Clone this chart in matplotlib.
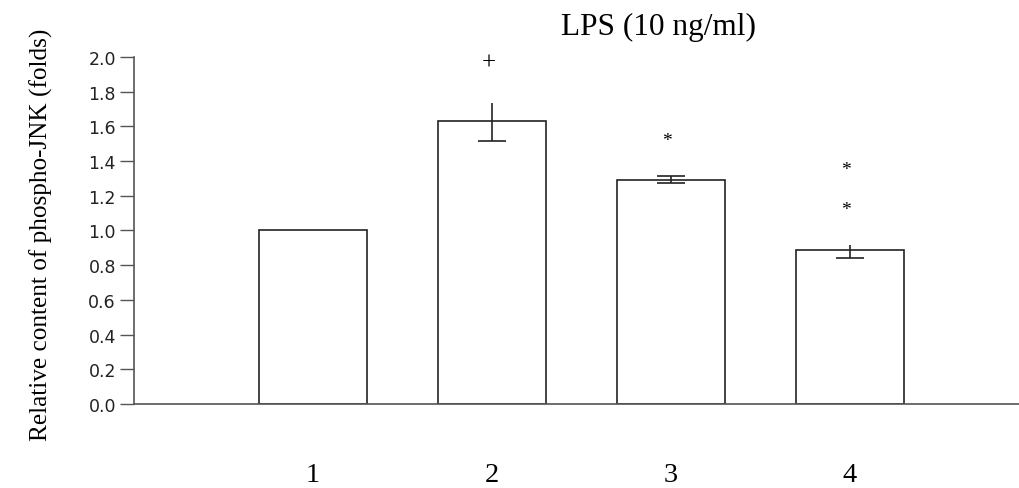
import matplotlib
matplotlib.use('Agg')
import matplotlib.pyplot as plt

groups = ['1', '2', '3', '4']
means = [1.00, 1.63, 1.29, 0.89]
err_hi = [1.00, 1.735, 1.312, 0.916]
err_lo = [1.00, 1.514, 1.274, 0.840]
top_cap = [False, False, True, False]
marks = [(2, 1.97, '+', 18), (3, 1.52, '*', 14), (4, 1.35, '*', 14), (4, 1.12, '*', 14)]

SERIF = 'Liberation Serif'
fig = plt.figure(figsize=(10.2, 4.89), dpi=100)
ax = fig.add_axes([0.1314, 0.1718, 0.8686, 0.7096])

xs = list(range(1, len(groups) + 1))
ax.bar(xs, means, width=0.6, color='white', edgecolor='#222222', lw=1.2, zorder=2)

for x, m, hi, lo, cap in zip(xs, means, err_hi, err_lo, top_cap):
    if hi == lo:
        continue
    ax.vlines(x, lo, hi, color='#222222', lw=1.2, zorder=3)
    ax.hlines(lo, x - 0.08, x + 0.08, color='#222222', lw=1.2, zorder=3)
    if cap:
        ax.hlines(hi, x - 0.08, x + 0.08, color='#222222', lw=1.2, zorder=3)

for x, y, s, fs in marks:
    ax.text(x - 0.02, y, s, ha='center', va='center', fontsize=fs,
            family=SERIF, clip_on=False)

ax.set_xlim(0, 4.95)
ax.set_ylim(0, 2.0)
ax.set_yticks([i / 5 for i in range(11)])
ax.set_yticklabels([f'{i / 5:.1f}' for i in range(11)], fontsize=12.5,
                   family='DejaVu Sans', color='#222222')
ax.tick_params(axis='y', length=10, width=1, color='#555555', pad=3)
ax.set_xticks(xs)
ax.set_xticklabels(groups, fontsize=20.5, family=SERIF)
ax.tick_params(axis='x', length=0, pad=42)

for s in ('top', 'right'):
    ax.spines[s].set_visible(False)
for s in ('left', 'bottom'):
    ax.spines[s].set_color('#555555')
    ax.spines[s].set_linewidth(1.2)

ax.set_ylabel('Relative content of phospho-JNK (folds)', fontsize=18.2,
              family=SERIF)
ax.yaxis.set_label_coords(-0.0914, 0.49)
fig.text(0.646, 0.943, 'LPS (10 ng/ml)', ha='center', va='center',
         fontsize=22.5, family=SERIF)

fig.savefig('out.png', dpi=100)
